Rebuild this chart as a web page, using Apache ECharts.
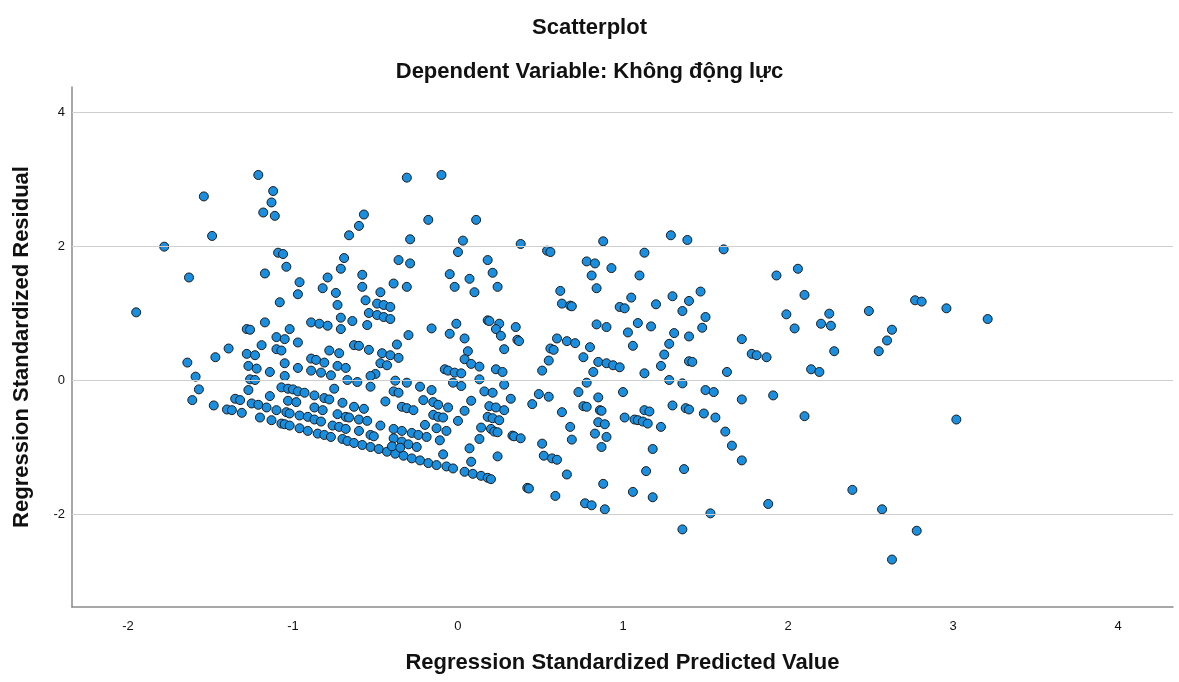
<!DOCTYPE html>
<html>
<head>
<meta charset="utf-8">
<script src="https://cdn.jsdelivr.net/npm/echarts@6/dist/echarts.min.js"></script>
<style>
  html, body { margin: 0; padding: 0; background: #fff; }
  #chart { width: 1179px; height: 682px; }
</style>
</head>
<body>
<div id="chart"></div>
<script>
// Residual diagnostics: standardized predicted value (x) vs standardized residual (y)
const chartTitle = 'Scatterplot';
const chartSubtitle = 'Dependent Variable: Không động lực';
const xAxisTitle = 'Regression Standardized Predicted Value';
const yAxisTitle = 'Regression Standardized Residual';

const xTickValues = [-2, -1, 0, 1, 2, 3, 4];
const yTickValues = [-2, 0, 2, 4];
const xRange = [-2.339, 4.333];
const yRange = [-3.388, 4.373];

// [predicted, residual] per case
const observations = [
  [-1.21, 3.06], [-1.12, 2.82], [-1.13, 2.65], [-1.18, 2.50], [-1.11, 2.45], [-1.54, 2.74],
  [-1.49, 2.15], [-1.78, 1.99], [-1.09, 1.90], [-1.06, 1.88], [-1.04, 1.69], [-1.17, 1.59],
  [-1.63, 1.53], [-1.08, 1.16], [-1.95, 1.01], [-1.17, 0.86], [-1.28, 0.76], [-1.26, 0.75],
  [-1.02, 0.76], [-1.10, 0.64], [-1.05, 0.61], [-1.19, 0.52], [-1.39, 0.47], [-1.47, 0.34],
  [-1.64, 0.26], [-1.28, 0.39], [-1.23, 0.37], [-1.10, 0.46], [-1.07, 0.44], [-1.05, 0.25],
  [-1.27, 0.21], [-1.22, 0.17], [-1.14, 0.12], [-1.59, 0.05], [-1.05, 0.06], [-1.26, 0.01],
  [-1.23, 0.00], [-1.57, -0.14], [-1.07, -0.11], [-1.03, -0.13], [-1.27, -0.15], [-1.14, -0.24],
  [-1.61, -0.30], [-1.35, -0.28], [-1.32, -0.30], [-1.25, -0.35], [-1.21, -0.37], [-1.03, -0.31],
  [-1.48, -0.38], [-1.16, -0.41], [-1.10, -0.45], [-1.40, -0.44], [-1.37, -0.45], [-1.31, -0.49],
  [-1.04, -0.48], [-1.02, -0.50], [-1.20, -0.56], [-1.13, -0.60], [-1.07, -0.65], [-1.05, -0.66],
  [-1.02, -0.68],
  [-0.31, 3.02], [-0.10, 3.06], [-0.57, 2.47], [-0.60, 2.30], [-0.66, 2.16], [-0.18, 2.39],
  [0.11, 2.39], [-0.29, 2.10], [0.03, 2.08], [0.00, 1.91], [-0.69, 1.82], [-0.71, 1.66],
  [-0.36, 1.79], [-0.29, 1.74], [0.18, 1.79], [0.21, 1.60], [0.24, 1.39], [-0.05, 1.58],
  [-0.02, 1.39], [0.07, 1.51], [0.10, 1.31], [-0.96, 1.46], [-0.97, 1.28], [-0.79, 1.53],
  [-0.82, 1.37], [-0.74, 1.30], [-0.73, 1.12], [-0.58, 1.57], [-0.58, 1.39], [-0.39, 1.44],
  [-0.31, 1.39], [-0.47, 1.31], [-0.56, 1.19], [-0.49, 1.14], [-0.45, 1.12], [-0.41, 1.09],
  [-0.54, 1.00], [-0.49, 0.97], [-0.45, 0.94], [-0.41, 0.91], [-0.71, 0.93], [-0.64, 0.88],
  [-0.89, 0.86], [-0.84, 0.84], [-0.79, 0.81], [-0.55, 0.82], [-0.71, 0.76], [-0.16, 0.77],
  [-0.01, 0.84], [0.18, 0.89], [0.19, 0.88], [0.25, 0.84], [-0.05, 0.69], [-0.30, 0.67],
  [0.04, 0.62], [0.23, 0.76], [-0.97, 0.56], [-0.63, 0.52], [-0.60, 0.51], [-0.54, 0.45],
  [-0.37, 0.53], [-0.46, 0.40], [-0.41, 0.37], [-0.36, 0.33], [-0.78, 0.44], [-0.72, 0.40],
  [-0.89, 0.32], [-0.86, 0.30], [-0.81, 0.26], [0.06, 0.43], [0.04, 0.31], [-0.97, 0.18],
  [-0.89, 0.14], [-0.83, 0.11], [-0.77, 0.07], [-0.73, 0.21], [-0.68, 0.18], [-0.47, 0.25],
  [-0.43, 0.22], [-0.50, 0.09], [-0.53, 0.06], [0.08, 0.24], [0.13, 0.20], [-0.08, 0.16],
  [-0.06, 0.14], [-0.02, 0.11], [0.02, 0.10], [0.23, 0.16], [0.13, 0.01], [-0.67, 0.00],
  [-0.61, -0.03], [-0.38, -0.01], [-0.31, -0.04], [-0.53, -0.10], [-0.75, -0.13], [-0.03, -0.04],
  [0.02, -0.09], [-0.23, -0.10], [-0.16, -0.15], [-1.00, -0.14], [-0.97, -0.17], [-0.93, -0.19],
  [-0.87, -0.23], [-0.81, -0.27], [-0.78, -0.29], [-0.39, -0.17], [-0.36, -0.19], [0.16, -0.17],
  [0.21, -0.19], [-0.98, -0.33], [-0.70, -0.34], [-0.44, -0.32], [-0.21, -0.30], [-0.15, -0.33],
  [-0.12, -0.37], [-0.06, -0.41], [0.08, -0.31], [0.19, -0.39], [0.23, -0.41], [-0.87, -0.41],
  [-0.82, -0.45], [-0.63, -0.40], [-0.57, -0.43], [-0.34, -0.40], [-0.31, -0.42], [-0.27, -0.45],
  [0.04, -0.46], [-0.96, -0.53], [-0.91, -0.55], [-0.87, -0.59], [-0.83, -0.62], [-0.73, -0.51],
  [-0.68, -0.55], [-0.66, -0.56], [-0.60, -0.59], [-0.55, -0.61], [-0.15, -0.52], [-0.12, -0.55],
  [-0.09, -0.56], [0.00, -0.61], [0.18, -0.55], [0.21, -0.57], [0.25, -0.60], [-0.47, -0.68],
  [-0.20, -0.67], [-0.13, -0.72], [-0.07, -0.76], [0.14, -0.71], [0.20, -0.73], [-0.96, -0.72],
  [-0.91, -0.76], [-0.85, -0.80], [-0.81, -0.82], [-0.77, -0.85], [-0.76, -0.68], [-0.72, -0.70],
  [-0.68, -0.73], [-0.60, -0.76], [-0.53, -0.82], [-0.51, -0.84], [-0.39, -0.73], [-0.34, -0.76],
  [-0.28, -0.79], [-0.24, -0.82], [-0.19, -0.85], [-0.39, -0.87], [-0.34, -0.92], [-0.30, -0.96],
  [-0.25, -1.00], [0.13, -0.88], [-0.11, -0.90], [-0.70, -0.88], [-0.67, -0.91], [-0.63, -0.94],
  [-0.58, -0.97], [-0.53, -1.00], [-0.48, -1.03], [-0.43, -1.07], [-0.38, -1.10], [-0.33, -1.13],
  [-0.28, -1.17], [-0.23, -1.20], [-0.18, -1.24], [-0.13, -1.27], [-0.40, -0.99], [-0.35, -1.01],
  [0.07, -1.02], [-0.09, -1.11], [0.24, -1.14], [0.08, -1.22], [-0.07, -1.29], [-0.03, -1.32],
  [0.04, -1.37], [0.09, -1.40], [0.14, -1.43], [0.18, -1.46], [0.20, -1.48],
  [0.38, 2.03], [0.54, 1.93], [0.56, 1.91], [0.88, 2.07], [1.29, 2.16], [1.39, 2.09],
  [1.13, 1.90], [0.78, 1.77], [0.83, 1.74], [0.93, 1.67], [0.81, 1.56], [1.10, 1.56],
  [0.84, 1.37], [0.62, 1.33], [0.63, 1.14], [0.68, 1.11], [0.69, 1.10], [0.98, 1.09],
  [1.01, 1.07], [1.05, 1.23], [1.20, 1.13], [1.30, 1.25], [1.40, 1.18], [1.47, 1.32],
  [1.36, 1.03], [1.50, 0.94], [0.35, 0.79], [0.84, 0.83], [0.90, 0.79], [1.09, 0.85],
  [1.17, 0.80], [1.48, 0.78], [1.03, 0.71], [1.31, 0.70], [1.40, 0.65], [0.26, 0.66],
  [0.36, 0.60], [0.37, 0.58], [0.60, 0.62], [0.66, 0.58], [0.71, 0.55], [0.56, 0.47],
  [0.58, 0.45], [0.80, 0.49], [0.76, 0.34], [1.06, 0.51], [1.28, 0.54], [1.25, 0.38],
  [0.28, 0.46], [0.55, 0.29], [0.85, 0.27], [0.90, 0.25], [0.94, 0.22], [0.98, 0.19],
  [1.23, 0.21], [1.40, 0.28], [1.42, 0.27], [0.51, 0.14], [0.27, 0.12], [0.82, 0.12],
  [1.13, 0.10], [1.28, 0.00], [1.36, -0.05], [1.50, -0.15], [0.78, -0.04], [0.28, -0.07],
  [0.49, -0.21], [0.55, -0.25], [0.73, -0.18], [1.00, -0.18], [0.85, -0.26], [0.32, -0.28],
  [0.28, -0.45], [0.45, -0.36], [0.76, -0.39], [0.78, -0.40], [0.86, -0.45], [0.87, -0.46],
  [0.63, -0.48], [1.13, -0.45], [1.16, -0.47], [1.30, -0.38], [1.38, -0.42], [1.40, -0.44],
  [1.49, -0.50], [1.01, -0.56], [1.07, -0.59], [1.09, -0.60], [1.12, -0.62], [1.15, -0.65],
  [0.85, -0.63], [0.89, -0.66], [1.23, -0.70], [0.68, -0.70], [0.22, -0.77], [0.24, -0.78],
  [0.33, -0.83], [0.34, -0.84], [0.38, -0.87], [0.83, -0.80], [0.90, -0.85], [0.69, -0.89],
  [0.51, -0.95], [0.87, -1.00], [1.18, -1.03], [0.52, -1.13], [0.57, -1.17], [0.60, -1.19],
  [1.14, -1.36], [1.37, -1.33], [0.66, -1.41], [0.42, -1.61], [0.43, -1.62], [0.88, -1.55],
  [0.59, -1.73], [1.06, -1.67], [1.18, -1.75], [0.77, -1.84], [0.81, -1.87], [0.89, -1.93],
  [1.53, -1.99], [1.36, -2.23],
  [1.61, 1.95], [1.93, 1.56], [2.06, 1.66], [2.10, 1.27], [1.99, 0.98], [2.04, 0.77],
  [2.25, 0.99], [2.20, 0.84], [2.26, 0.81], [2.49, 1.03], [2.77, 1.19], [2.81, 1.17],
  [2.96, 1.07], [3.21, 0.91], [2.63, 0.75], [2.60, 0.59], [2.55, 0.43], [2.28, 0.43],
  [1.72, 0.61], [1.78, 0.39], [1.81, 0.37], [1.87, 0.34], [1.63, 0.12], [2.14, 0.16],
  [2.19, 0.12], [1.55, -0.18], [1.72, -0.29], [1.91, -0.23], [1.56, -0.56], [2.10, -0.54],
  [3.02, -0.59], [1.62, -0.77], [1.66, -0.98], [1.72, -1.20], [2.39, -1.64], [1.88, -1.85],
  [2.57, -1.93], [2.78, -2.25], [2.63, -2.68]
];

const fontFamily = '"Liberation Sans", Arial, Helvetica, sans-serif';
const headingStyle = { fontFamily: fontFamily, fontSize: 22, fontWeight: 'bold', color: '#111' };
const tickStyle = { fontFamily: fontFamily, fontSize: 13, color: '#111' };

const chart = echarts.init(document.getElementById('chart'), null, { renderer: 'canvas' });

chart.setOption({
  animation: false,
  backgroundColor: '#ffffff',
  textStyle: { fontFamily: fontFamily },
  title: [
    { text: chartTitle, left: 'center', top: 12, textStyle: headingStyle },
    { text: chartSubtitle, left: 'center', top: 56, textStyle: headingStyle }
  ],
  grid: { left: 72, right: 6, top: 87, bottom: 75, containLabel: false },
  xAxis: {
    type: 'value',
    min: xRange[0],
    max: xRange[1],
    name: xAxisTitle,
    nameLocation: 'middle',
    nameGap: 45,
    nameTextStyle: headingStyle,
    axisLine: { show: true, onZero: false, lineStyle: { color: '#8a8a8a', width: 1.5 } },
    axisTick: { show: false, customValues: xTickValues },
    axisLabel: Object.assign({ customValues: xTickValues, margin: 13 }, tickStyle),
    splitLine: { show: false }
  },
  yAxis: {
    type: 'value',
    min: yRange[0],
    max: yRange[1],
    name: yAxisTitle,
    nameLocation: 'middle',
    nameGap: 39,
    nameTextStyle: headingStyle,
    axisLine: { show: true, onZero: false, lineStyle: { color: '#8a8a8a', width: 1.5 } },
    axisTick: { show: false, customValues: yTickValues },
    axisLabel: Object.assign({ customValues: yTickValues, margin: 7 }, tickStyle),
    splitLine: { show: false }
  },
  series: [
    {
      // horizontal reference lines at the labelled residual values
      type: 'scatter',
      data: [],
      z: 1,
      silent: true,
      markLine: {
        silent: true,
        symbol: ['none', 'none'],
        animation: false,
        label: { show: false },
        lineStyle: { color: '#cfcfcf', width: 1.2, type: 'solid' },
        data: yTickValues.map(function (v) { return { yAxis: v }; })
      }
    },
    {
      type: 'scatter',
      z: 3,
      symbol: 'circle',
      symbolSize: 9,
      data: observations,
      itemStyle: { color: '#1a8fe0', borderColor: '#1b1b1b', borderWidth: 1, opacity: 1 }
    }
  ]
});
</script>
</body>
</html>
